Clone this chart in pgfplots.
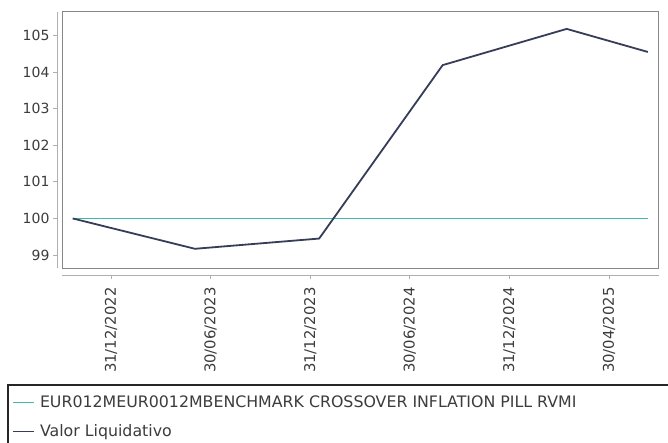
\documentclass[border=0pt]{standalone}
\usepackage{pgfplots}
\pgfplotsset{compat=1.18}
\usepackage{fontspec}
\setmainfont{DejaVu Sans}
\definecolor{bench}{RGB}{64,184,176}
\definecolor{fund}{RGB}{55,60,88}
\definecolor{framec}{RGB}{135,135,135}
\definecolor{axisc}{RGB}{175,175,175}
\definecolor{labc}{RGB}{60,60,60}
\begin{document}
\begin{tikzpicture}
\useasboundingbox (0pt,0pt) rectangle (668pt,-443pt);
\clip (0pt,0pt) rectangle (668pt,-443pt);
\fill[white] (0pt,0pt) rectangle (668pt,-443pt);
\begin{axis}[
  at={(62pt,-268pt)}, anchor=south west,
  scale only axis, width=596.5pt, height=256pt,
  xmin=-0.492, xmax=5.497, ymin=98.645, ymax=105.642,
  axis lines=left,
  axis line style={-, draw=axisc, line width=0.8pt},
  axis x line shift=7pt,
  axis y line shift=5pt,
  tick align=outside,
  major tick length=4pt,
  tick style={draw=axisc, line width=0.8pt},
  xtick={0,1,2,3,4,5},
  xticklabels={31/12/2022,30/06/2023,31/12/2023,30/06/2024,31/12/2024,30/04/2025},
  xticklabel shift=5pt,
  xticklabel style={rotate=90, anchor=east, font=\fontsize{14.8}{16}\selectfont, text=labc},
  ytick={99,100,101,102,103,104,105},
  yticklabel style={font=\fontsize{14}{16}\selectfont, text=labc},
  /pgf/number format/assume math mode=true,
  clip=false,
  legend style={at={(axis description cs:-0.0838,-0.4953)}, anchor=north west,
    draw=none, fill=none, inner sep=0pt, column sep=5pt, row sep=14pt,
    font=\fontsize{15.8}{18}\selectfont, text=labc,
    nodes={inner sep=0pt, text height=12pt, text depth=3pt}},
  legend cell align=left,
  legend image code/.code={\draw[#1, line width=1.8pt] (0pt,0pt) -- (21pt,0pt);},
]
\draw[framec, line width=1pt] (rel axis cs:0,0) rectangle (rel axis cs:1,1);
\addplot[bench, line width=1.8pt] coordinates {
(-0.385,100) (0.843,100) (2.09,100) (3.33,100) (4.575,100) (5.39,100)};
\addlegendentry{EUR012MEUR0012MBENCHMARK CROSSOVER INFLATION PILL RVMI}
\addplot[fund, line width=1.8pt] coordinates {
(-0.385,100) (0.843,99.17) (2.09,99.45) (3.33,104.19) (4.575,105.18) (5.39,104.55)};
\addlegendentry{Valor Liquidativo}
\end{axis}
\draw[black!85, line width=1.5pt] (8pt,-385pt) rectangle (700pt,-460pt);
\end{tikzpicture}
\end{document}
